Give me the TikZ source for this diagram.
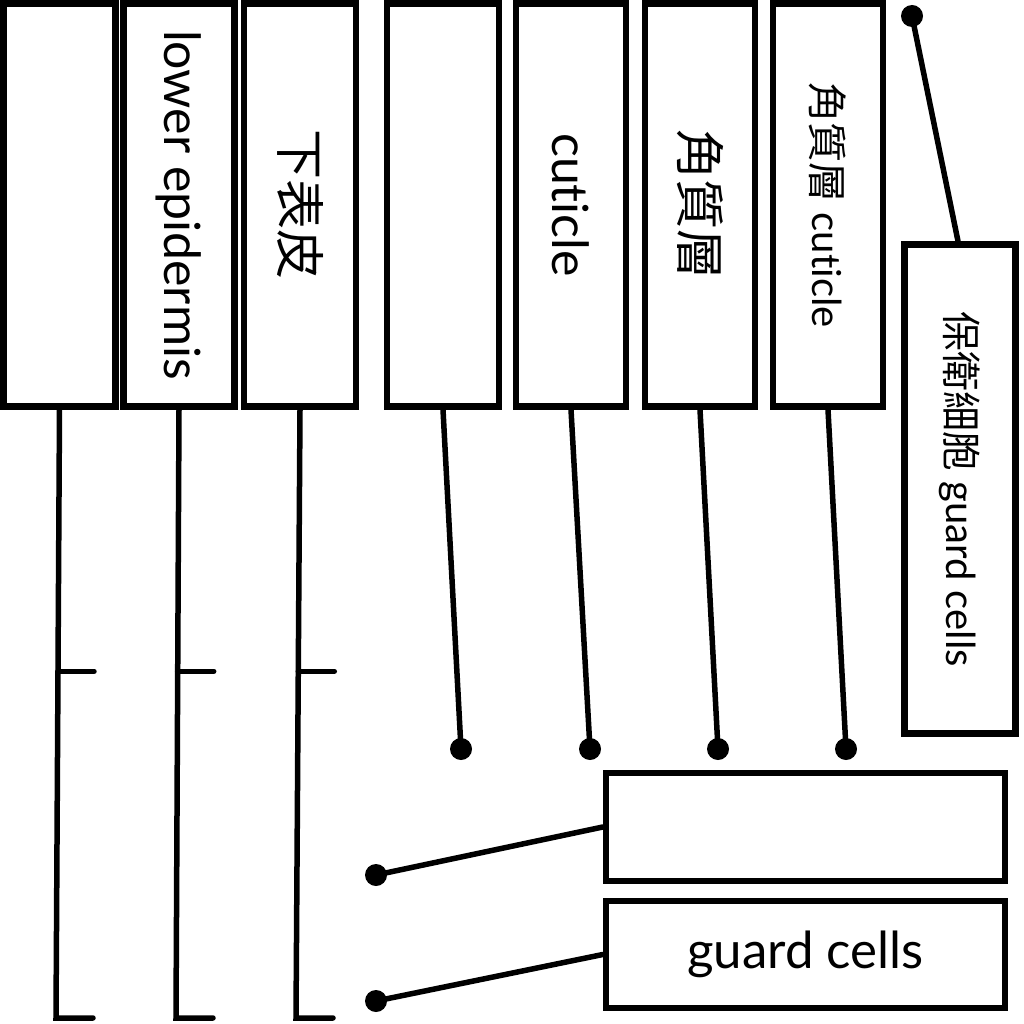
\documentclass[tikz,border=0pt]{standalone}
\usepackage{fontspec}
\setmainfont{Lato}[Ligatures=NoCommon, RawFeature={-liga;-dlig;-calt}]
\newfontfamily\cjk{Noto Sans CJK TC}
\usetikzlibrary{calc}
\tikzset{
  box/.style={draw=black, fill=white, line width=6.5pt, inner sep=0pt, rectangle},
  vtext/.style={rotate=-90, inner sep=0pt, font=\fontsize{50}{54}\selectfont},
  vsmall/.style={rotate=-90, inner sep=0pt, font=\fontsize{40}{44}\selectfont},
  htext/.style={inner sep=0pt, font=\fontsize{51}{55}\selectfont},
  conn/.style={line width=5.5pt, line cap=round, draw=black},
  dotnode/.style={circle, fill=black, inner sep=0pt, minimum size=22pt},
}
\newcommand{\cutword}{cut\kern0pt icle}
\begin{document}
\begin{tikzpicture}[x=1pt,y=-1pt]
\useasboundingbox (0,0) rectangle (1024,1024);
% top row boxes
\node[box, minimum width=112pt, minimum height=403pt] (b1) at (59.5,205) {};
\node[box, minimum width=111pt, minimum height=403pt] (b2) at (179,205) {};
\node[box, minimum width=112pt, minimum height=403pt] (b3) at (300,205) {};
\node[box, minimum width=112pt, minimum height=403pt] (b4) at (443,205) {};
\node[box, minimum width=110pt, minimum height=403pt] (b5) at (571,205) {};
\node[box, minimum width=110pt, minimum height=403pt] (b6) at (700,205) {};
\node[box, minimum width=110pt, minimum height=403pt] (b7) at (828,205) {};
\node[box, minimum width=111pt, minimum height=489pt] (b8) at (960,489) {};
\node[box, minimum width=399pt, minimum height=108pt] (b9) at (805.5,827) {};
\node[box, minimum width=399pt, minimum height=107pt] (b10) at (805.5,954.5) {};
% texts
\node[vtext] (t2) at (b2) {lower epidermis};
\node[vtext] (t3) at (b3) {\cjk 下表皮};
\node[vtext] (t5) at (b5) {\cutword};
\node[vtext] (t6) at (b6) {\cjk 角質層};
\node[vsmall] (t7) at (b7) {{\cjk 角質層} \cutword};
\node[vsmall] (t8) at (b8) {{\cjk 保衛細胞} guard cells};
\node[htext] (t10) at (b10) {guard cells};
% bracket connectors
\coordinate (e1) at (56,1018);
\coordinate (e2) at (176,1018);
\coordinate (e3) at (296,1018);
\draw[conn] (b1.south) -- (e1) -- ++(37,0);
\draw[conn] ($(b1.south)!0.43!(e1)$) -- ++(36,0);
\draw[conn] (b2.south) -- (e2) -- ++(37,0);
\draw[conn] ($(b2.south)!0.43!(e2)$) -- ++(36,0);
\draw[conn] (b3.south) -- (e3) -- ++(37,0);
\draw[conn] ($(b3.south)!0.43!(e3)$) -- ++(36,0);
% dots
\node[dotnode] (d4) at (461,749) {};
\node[dotnode] (d5) at (590,749) {};
\node[dotnode] (d6) at (718,749) {};
\node[dotnode] (d7) at (846,749) {};
\node[dotnode] (d8) at (912,16) {};
\node[dotnode] (d9) at (376,875) {};
\node[dotnode] (d10) at (376,1001) {};
\draw[conn] (b4.south) -- (d4.center);
\draw[conn] (b5.south) -- (d5.center);
\draw[conn] (b6.south) -- (d6.center);
\draw[conn] (b7.south) -- (d7.center);
\draw[conn] (d8.center) -- ([xshift=-2pt]b8.north);
\draw[conn] (b9.west) -- (d9.center);
\draw[conn] (b10.west) -- (d10.center);
\end{tikzpicture}
\end{document}
